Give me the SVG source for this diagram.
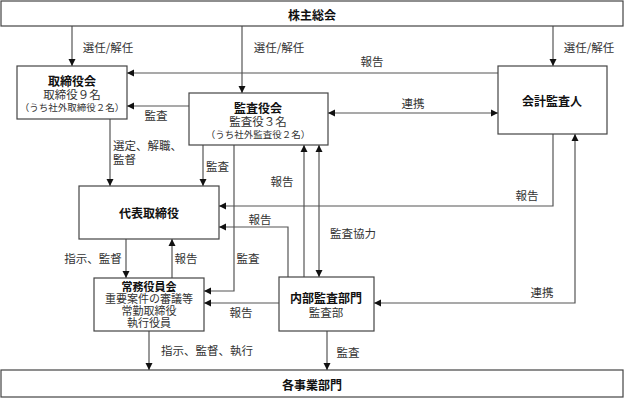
<svg xmlns="http://www.w3.org/2000/svg" width="624" height="398" viewBox="0 0 624 398">
<style>
.box{fill:#fff;stroke:#444;stroke-width:1.2}
.ln{fill:none;stroke:#555;stroke-width:1.2}
text{font-family:"Noto Sans CJK JP","Noto Sans CJK SC",sans-serif;dominant-baseline:central}
.t{font-size:12px;font-weight:bold;fill:#111;text-anchor:middle}
.b{font-size:11.5px;fill:#333;text-anchor:middle}
.s{font-size:9.5px;fill:#333;text-anchor:middle}
.e{font-size:11px;fill:#333;text-anchor:middle}
.l{font-size:11.5px;fill:#333;text-anchor:middle}
.ls{font-size:11.5px;fill:#333;text-anchor:start}
</style>
<defs>
<marker id="ah" markerWidth="8" markerHeight="8" refX="7" refY="4" orient="auto" markerUnits="userSpaceOnUse">
<path d="M0,0.5 L7,4 L0,7.5 Z" fill="#111"/>
</marker>
<marker id="as" markerWidth="8" markerHeight="8" refX="0" refY="4" orient="auto" markerUnits="userSpaceOnUse">
<path d="M7,0.5 L0,4 L7,7.5 Z" fill="#111"/>
</marker>
</defs>
<g id="connectors">
<path class="ln" d="M72,26 V66" marker-end="url(#ah)"/>
<path class="ln" d="M242,26 V93" marker-end="url(#ah)"/>
<path class="ln" d="M553,26 V66" marker-end="url(#ah)"/>
<path class="ln" d="M498,73 H127" marker-end="url(#ah)"/>
<path class="ln" d="M189,106 H127" marker-end="url(#ah)"/>
<path class="ln" d="M328,113 H498" marker-start="url(#as)" marker-end="url(#ah)"/>
<path class="ln" d="M110,119 V186" marker-end="url(#ah)"/>
<path class="ln" d="M203,145 V186" marker-end="url(#ah)"/>
<path class="ln" d="M234,145 V291 H204" marker-end="url(#ah)"/>
<path class="ln" d="M304,277 V145" marker-end="url(#ah)"/>
<path class="ln" d="M319,145 V277" marker-start="url(#as)" marker-end="url(#ah)"/>
<path class="ln" d="M553,134 V206 H219" marker-end="url(#ah)"/>
<path class="ln" d="M575,134 V303 H374" marker-start="url(#as)" marker-end="url(#ah)"/>
<path class="ln" d="M288,277 V227 H219" marker-end="url(#ah)"/>
<path class="ln" d="M279,303 H204" marker-end="url(#ah)"/>
<path class="ln" d="M126,239 V278" marker-end="url(#ah)"/>
<path class="ln" d="M172,278 V239" marker-end="url(#ah)"/>
<path class="ln" d="M149,331 V370" marker-end="url(#ah)"/>
<path class="ln" d="M327,331 V370" marker-end="url(#ah)"/>
<text class="l" x="108" y="47">選任/解任</text>
<text class="l" x="279" y="47">選任/解任</text>
<text class="l" x="589" y="47">選任/解任</text>
<text class="l" x="372" y="61">報告</text>
<text class="l" x="413" y="103">連携</text>
<text class="l" x="156" y="115">監査</text>
<text class="ls" x="113" y="145">選定、解職、</text>
<text class="ls" x="113" y="159">監督</text>
<text class="ls" x="206" y="166">監査</text>
<text class="l" x="282" y="181">報告</text>
<text class="l" x="527" y="195">報告</text>
<text class="l" x="260" y="219">報告</text>
<text class="l" x="353" y="233">監査協力</text>
<text class="l" x="93" y="258">指示、監督</text>
<text class="l" x="186" y="258">報告</text>
<text class="l" x="248" y="258">監査</text>
<text class="l" x="542" y="292">連携</text>
<text class="l" x="241" y="312">報告</text>
<text class="l" x="207" y="350">指示、監督、執行</text>
<text class="l" x="348" y="352">監査</text>
</g>
<g id="shareholders">
<rect class="box" x="1" y="1" width="622" height="25"/>
<text class="t" x="312" y="14">株主総会</text>
</g>
<g id="board">
<rect class="box" x="17" y="66" width="110" height="53"/>
<text class="t" x="72" y="80">取締役会</text>
<text class="b" x="72" y="94">取締役９名</text>
<text class="s" x="72" y="107">（うち社外取締役２名）</text>
</g>
<g id="auditboard">
<rect class="box" x="189" y="93" width="139" height="52"/>
<text class="t" x="258" y="107">監査役会</text>
<text class="b" x="258" y="121">監査役３名</text>
<text class="s" x="258" y="134">（うち社外監査役２名）</text>
</g>
<g id="accountant">
<rect class="box" x="498" y="66" width="109" height="68"/>
<text class="t" x="552" y="100">会計監査人</text>
</g>
<g id="ceo">
<rect class="box" x="79" y="186" width="140" height="53"/>
<text class="t" x="149" y="212">代表取締役</text>
</g>
<g id="executive">
<rect class="box" x="94" y="278" width="110" height="53"/>
<text class="t" x="149" y="285.5" style="font-size:11px">常務役員会</text>
<text class="e" x="149" y="297.5">重要案件の審議等</text>
<text class="e" x="149" y="309.5">常勤取締役</text>
<text class="e" x="149" y="321.5">執行役員</text>
</g>
<g id="internalaudit">
<rect class="box" x="279" y="277" width="95" height="54"/>
<text class="t" x="326" y="297">内部監査部門</text>
<text class="b" x="326" y="312">監査部</text>
</g>
<g id="divisions">
<rect class="box" x="1" y="370" width="622" height="27"/>
<text class="t" x="312" y="384">各事業部門</text>
</g>
</svg>
